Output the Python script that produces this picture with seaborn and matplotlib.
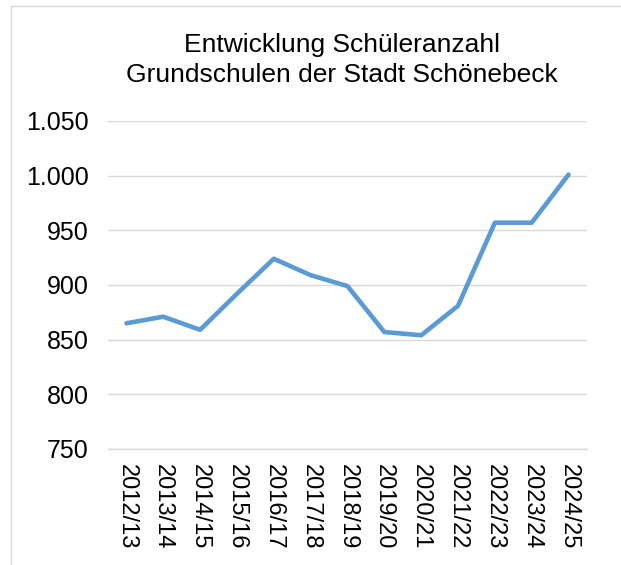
import matplotlib
matplotlib.use("Agg")
import matplotlib.pyplot as plt
import seaborn as sns
import pandas as pd
from matplotlib.lines import Line2D

years = ["2012/13", "2013/14", "2014/15", "2015/16", "2016/17", "2017/18", "2018/19",
         "2019/20", "2020/21", "2021/22", "2022/23", "2023/24", "2024/25"]
students = [865, 871, 859, 892, 924, 909, 899, 857, 854, 881, 957, 957, 1001]
y_ticks = [750, 800, 850, 900, 950, 1000, 1050]
y_labels = ["750", "800", "850", "900", "950", "1.000", "1.050"]
title = "Entwicklung Schüleranzahl\nGrundschulen der Stadt Schönebeck"

sns.set_theme(style="white")
plt.rcParams['font.family'] = ['Liberation Sans', 'DejaVu Sans']

df = pd.DataFrame({"Jahr": years, "Schüler": students})

fig = plt.figure(figsize=(6.21, 5.65), dpi=100)
ax = fig.add_axes([108/621, 1-449/565, (587-108)/621, (449-121)/565])

sns.lineplot(data=df, x="Jahr", y="Schüler", ax=ax, color="#5B9BD5",
             linewidth=3.3, solid_capstyle="round", solid_joinstyle="round", sort=False)

ax.set_xlim(-0.5, len(years) - 0.5)
ax.set_ylim(750, 1050)
ax.set_yticks(y_ticks)
ax.set_yticklabels(y_labels)
ax.set_xticks(range(len(years)))
ax.set_xticklabels(years, rotation=-90, ha="center", va="top")
ax.tick_params(axis="y", length=0, pad=14, labelsize=18, colors="black")
ax.tick_params(axis="x", length=0, pad=11, labelsize=17, colors="black")
ax.set_xlabel("")
ax.set_ylabel("")
ax.grid(axis="y", color="#d9d9d9", linewidth=1.0)
ax.set_axisbelow(True)
for s in ["top", "right", "left"]:
    ax.spines[s].set_visible(False)
ax.spines["bottom"].set_color("#d9d9d9")
ax.spines["bottom"].set_linewidth(1.0)

fig.text(342/621, 1-60/565, title, ha="center", va="center", fontsize=19,
         color="black", linespacing=1.3)

# outer chart frame (top and left edges visible)
fig.add_artist(Line2D([10.5/621, 1.0], [1-5.5/565, 1-5.5/565], transform=fig.transFigure,
                      color="#d9d9d9", linewidth=1.0))
fig.add_artist(Line2D([10.5/621, 10.5/621], [0.0, 1-5.5/565], transform=fig.transFigure,
                      color="#d9d9d9", linewidth=1.0))

fig.savefig("out.png", dpi=100, facecolor="white")
